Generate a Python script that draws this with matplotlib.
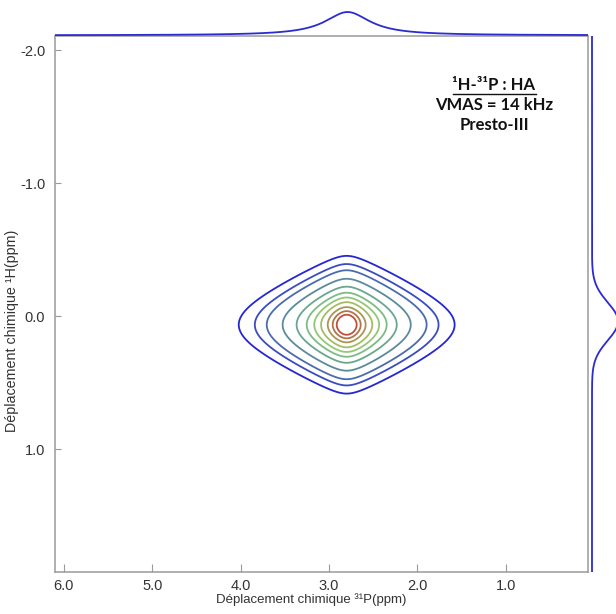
import numpy as np
import matplotlib
matplotlib.use("Agg")
import matplotlib.pyplot as plt

plt.rcParams["font.family"] = ["Liberation Sans", "DejaVu Sans"]

# 2D peak (ppm); hyperbolic lineshapes:
# gaussian-like top, exponential wings
peak_p31 = 2.80
peak_h1 = 0.065
decay_p31 = 0.333
core_p31 = 0.15
decay_h1 = 0.102
core_h1 = 0.24

# contour levels, relative to the maximum, outer -> inner
contour_levels = [0.039, 0.067, 0.100, 0.170, 0.270, 0.375, 0.477, 0.589, 0.715, 0.815, 0.893]
contour_colors = ["#2626d2", "#3a4cc0", "#4a6cae", "#5a8a9c", "#6aa68e", "#7cbc84",
                  "#92c874", "#a6bc64", "#a89656", "#b27448", "#c0503c"]

# 1D projections (external spectra)
top_center = 2.79       # ppm 31P
top_hwhm = 0.31
right_center = 0.04     # ppm 1H
right_sigma = 0.143

x_ticks = [6.0, 5.0, 4.0, 3.0, 2.0, 1.0]
y_ticks = [-2.0, -1.0, 0.0, 1.0]
x_range = (6.10, 0.07)
y_range = (1.925, -2.107)

note_lines = ["¹H-³¹P : HA", "VMAS = 14 kHz", "Presto-III"]
x_label = "Déplacement chimique ³¹P(ppm)"
y_label = "Déplacement chimique ¹H(ppm)"

spec_blue = "#2b2bd0"
frame_grey = "#9a9a9a"


def hyperbolic(d, decay, core):
    return np.exp(-(np.sqrt(d ** 2 + core ** 2) - core) / decay)


def build_spectrum():
    p31 = np.linspace(x_range[1], x_range[0], 900)
    h1 = np.linspace(y_range[1], y_range[0], 900)
    shape_p31 = hyperbolic(p31 - peak_p31, decay_p31, core_p31)
    shape_h1 = hyperbolic(h1 - peak_h1, decay_h1, core_h1)
    spec = np.outer(shape_h1, shape_p31)
    return p31, h1, spec / spec.max()


def projections(p31, h1):
    top = 1 / (1 + ((p31 - top_center) / top_hwhm) ** 2)
    right = np.exp(-(h1 - right_center) ** 2 / (2 * right_sigma ** 2))
    return top, right


def main():
    p31, h1, spec = build_spectrum()
    top_proj, right_proj = projections(p31, h1)

    fig = plt.figure(figsize=(6.16, 6.14), dpi=100)
    W, H = 616, 614

    ax = fig.add_axes([55 / W, 1 - 572 / H, 533 / W, 536 / H])
    ax_top = fig.add_axes([55 / W, 1 - 36 / H, 533 / W, 28 / H], sharex=ax)
    ax_right = fig.add_axes([590 / W, 1 - 572 / H, 40 / W, 536 / H], sharey=ax)

    ax.contour(p31, h1, spec, levels=contour_levels, colors=contour_colors,
               linewidths=1.3)

    ax.set_xlim(*x_range)
    ax.set_ylim(*y_range)
    ax.set_xticks(x_ticks)
    ax.set_xticklabels([f"{t:.1f}" for t in x_ticks])
    ax.set_yticks(y_ticks)
    ax.set_yticklabels([f"{t:.1f}" for t in y_ticks])

    ax.tick_params(axis="x", direction="in", length=6, width=0.8, color=frame_grey,
                   labelsize=10.5, labelcolor="#333333", pad=5)
    ax.tick_params(axis="y", direction="in", length=4, width=0.8, color=frame_grey,
                   labelsize=10.5, labelcolor="#333333", pad=7)
    for s in ax.spines.values():
        s.set_color(frame_grey)
        s.set_linewidth(1.1)

    ax.set_xlabel(x_label, fontsize=9.5, color="#333333")
    ax.xaxis.set_label_coords(0.481, -0.040)
    ax.set_ylabel(y_label, fontsize=10.3, color="#333333")
    ax.yaxis.set_label_coords(-0.0675, 0.45)

    # projections
    ax_top.plot(p31, top_proj, color=spec_blue, lw=1.3)
    ax_top.set_ylim(-0.030, 1.172)
    ax_top.axis("off")

    ax_right.plot(right_proj, h1, color=spec_blue, lw=1.3)
    ax_right.set_xlim(-0.0769, 1.4615)
    ax_right.axis("off")

    # annotation block
    bx = (494 - 55) / 533
    for i, line in enumerate(note_lines):
        yb = (572 - (90 + 20 * i)) / 536
        t = ax.text(bx, yb, line, transform=ax.transAxes, ha="center", va="baseline",
                    fontsize=12, fontweight="bold", family=["Lato", "DejaVu Sans"],
                    color="#111111")
        if i == 0:
            fig.canvas.draw()
            bb = t.get_window_extent()
            y_line = bb.y0 - 1.0
            fig.add_artist(plt.Line2D([bb.x0 / W, bb.x1 / W],
                                      [y_line / H, y_line / H],
                                      color="#111111", lw=1.0))

    fig.savefig("out.png", dpi=100)
    plt.close(fig)


if __name__ == "__main__":
    main()
